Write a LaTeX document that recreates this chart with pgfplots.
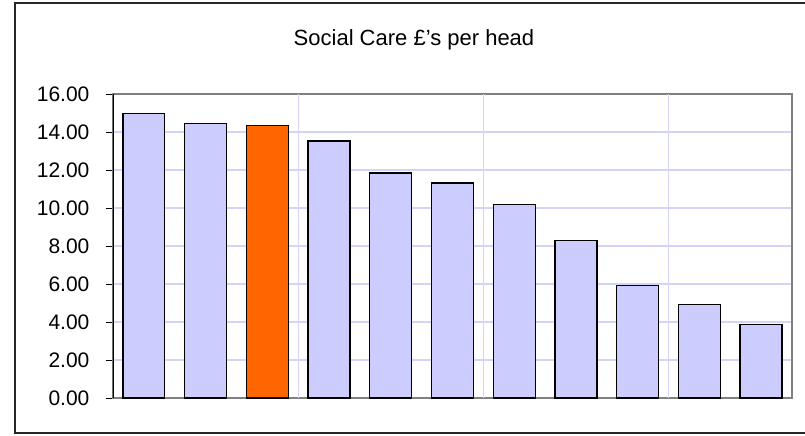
\documentclass[border=0pt]{standalone}
\usepackage{fontspec}
\setmainfont{Liberation Sans}
\usepackage{pgfplots}
\pgfplotsset{compat=1.18}
\definecolor{barblue}{RGB}{204,204,255}
\definecolor{barorange}{RGB}{255,102,0}
\definecolor{gridlav}{RGB}{212,212,250}
\definecolor{plotborder}{RGB}{128,128,128}
\begin{document}
\begin{tikzpicture}[x=0.5pt,y=0.5pt]
% page area in pixel-like units (1 unit = 0.5pt)
\useasboundingbox (0,0) rectangle (805,435);
\fill[white] (0,0) rectangle (805,435);
\draw[line width=0.7pt, black!85] (15,2) rectangle (812,432);
\node[anchor=base, inner sep=0pt, font=\fontsize{11}{13}\selectfont] at (414,389) {Social Care £'s per head};
\begin{axis}[
  at={(56.5pt,18.5pt)}, anchor=south west,
  scale only axis, width=339.5pt, height=152pt,
  xmin=-0.5, xmax=10.5, ymin=0, ymax=16,
  ybar, bar width=0.68, bar shift=0pt,
  xtick=\empty,
  extra x ticks={2.5,5.5,8.5},
  extra x tick labels={},
  extra x tick style={grid=major, major tick length=0pt},
  ytick={0,2,...,16},
  ytick pos=left, tick align=outside, major tick length=3.6pt,
  tick style={black, line width=0.5pt},
  ymajorgrids,
  grid style={gridlav, line width=0.6pt},
  axis line style={plotborder, line width=0.6pt},
  yticklabel style={inner sep=0pt, xshift=-8pt, font=\fontsize{10.5}{13}\selectfont},
  /pgf/number format/.cd, fixed, fixed zerofill, precision=2, assume math mode=true,
  /pgfplots/.cd,
]
\addplot[fill=barblue, draw=black, line width=0.65pt] coordinates {
  (0,14.96) (1,14.44) (3,13.53) (4,11.84) (5,11.32)
  (6,10.18) (7,8.30) (8,5.91) (9,4.93) (10,3.88)
};
\addplot[fill=barorange, draw=black, line width=0.65pt] coordinates {
  (2,14.33)
};
\draw[black, line width=0.6pt] (rel axis cs:0,0) -- (rel axis cs:0,1);
\end{axis}
\end{tikzpicture}
\end{document}
